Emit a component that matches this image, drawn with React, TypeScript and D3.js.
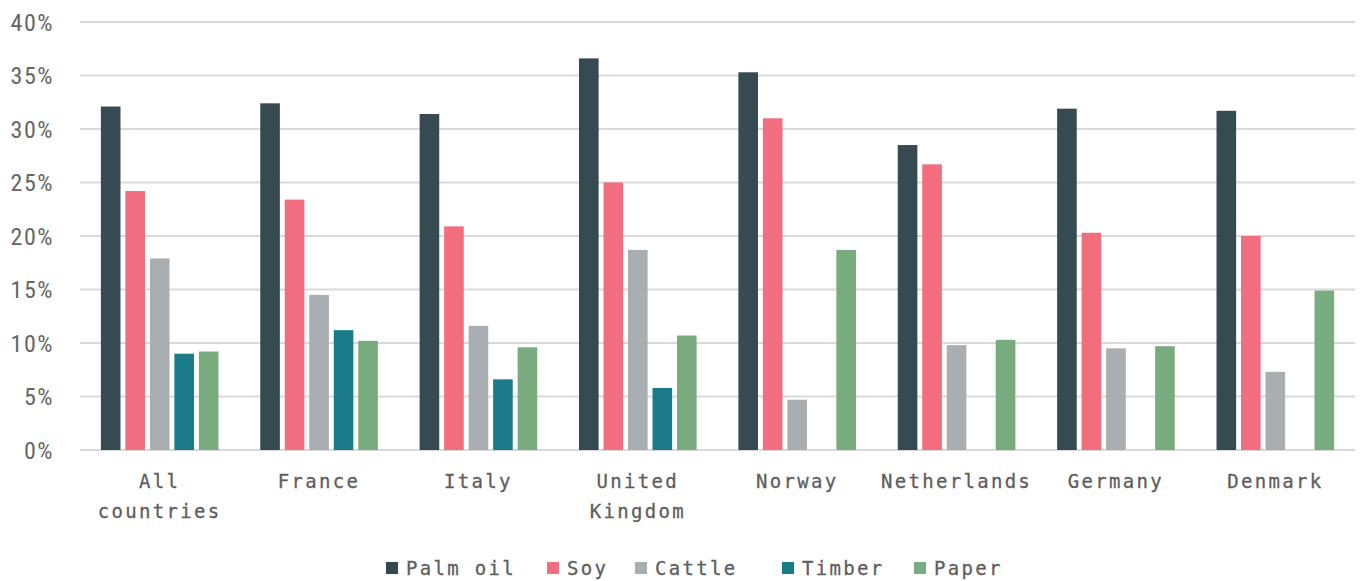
import React from "react";
import * as d3 from "d3";

const categories = ["All countries", "France", "Italy", "United Kingdom", "Norway", "Netherlands", "Germany", "Denmark"];
const categoryLines = [["All", "countries"], ["France"], ["Italy"], ["United", "Kingdom"], ["Norway"], ["Netherlands"], ["Germany"], ["Denmark"]];
const seriesNames = ["Palm oil", "Soy", "Cattle", "Timber", "Paper"];
const seriesColors = ["#364a52", "#f26d7d", "#a8aeb1", "#1a7b8a", "#78ab7e"];
const palmOil = [32.1, 32.4, 31.4, 36.6, 35.3, 28.5, 31.9, 31.7];
const soy = [24.2, 23.4, 20.9, 25.0, 31.0, 26.7, 20.3, 20.0];
const cattle = [17.9, 14.5, 11.6, 18.7, 4.7, 9.8, 9.5, 7.3];
const timber = [9.0, 11.2, 6.6, 5.8, 0, 0, 0, 0];
const paper = [9.2, 10.2, 9.6, 10.7, 18.7, 10.3, 9.7, 14.9];
const yTicks = [0, 5, 10, 15, 20, 25, 30, 35, 40];

const seriesValues = [palmOil, soy, cattle, timber, paper];

const W = 1362;
const H = 581;
const M = { left: 80, right: 7, top: 22, bottom: 131 };

export default function App() {
  const x0 = d3.scaleBand<string>().domain(categories).range([M.left, W - M.right]).padding(0);
  const bw = x0.bandwidth();
  const inner = 122.5;
  const x1 = d3.scaleBand<string>().domain(seriesNames).range([(bw - inner) / 2, (bw + inner) / 2]).paddingInner(0.2).paddingOuter(0.1);
  const y = d3.scaleLinear().domain([0, 40]).range([H - M.bottom, M.top]);

  const labelFont = "'DejaVu Sans Mono', 'Liberation Mono', monospace";
  const tickFont = "'Roboto Condensed', 'Liberation Sans Narrow', Roboto, sans-serif";

  const legendSquares = [386, 547, 635, 782, 914];

  return (
    <svg width={W} height={H} style={{ position: "absolute", left: 0, top: 0, background: "#fff" }}>
      {yTicks.map((t) => (
        <g key={t}>
          <line x1={M.left} x2={W - M.right} y1={y(t)} y2={y(t)} stroke="#d9d9d9" strokeWidth={2} />
          <text x={54} y={y(t)} dy="0.36em" textAnchor="end" fontFamily={tickFont} fontSize={24} letterSpacing={1.5} fill="#666">
            {t}%
          </text>
        </g>
      ))}
      {categories.map((c, ci) => (
        <g key={c} transform={`translate(${x0(c)},0)`}>
          {seriesNames.map((s, si) => {
            const v = seriesValues[si][ci];
            if (!v) return null;
            return (
              <rect
                key={s}
                x={x1(s)}
                y={y(v)}
                width={x1.bandwidth()}
                height={y(0) - y(v)}
                fill={seriesColors[si]}
              />
            );
          })}
          {categoryLines[ci].map((ln, li) => (
            <text
              key={li}
              x={bw / 2}
              y={488 + li * 30}
              textAnchor="middle"
              fontFamily={labelFont}
              fontSize={19}
              letterSpacing={2.3}
              fill="#5e5e5e"
              stroke="#5e5e5e"
              strokeWidth={0.3}
            >
              {ln}
            </text>
          ))}
        </g>
      ))}
      {seriesNames.map((s, si) => (
        <g key={s}>
          <rect x={legendSquares[si]} y={562} width={12} height={12} fill={seriesColors[si]} />
          <text x={legendSquares[si] + 20} y={575} fontFamily={labelFont} fontSize={19} letterSpacing={2.3} fill="#5e5e5e" stroke="#5e5e5e" strokeWidth={0.3}>
            {s}
          </text>
        </g>
      ))}
    </svg>
  );
}
